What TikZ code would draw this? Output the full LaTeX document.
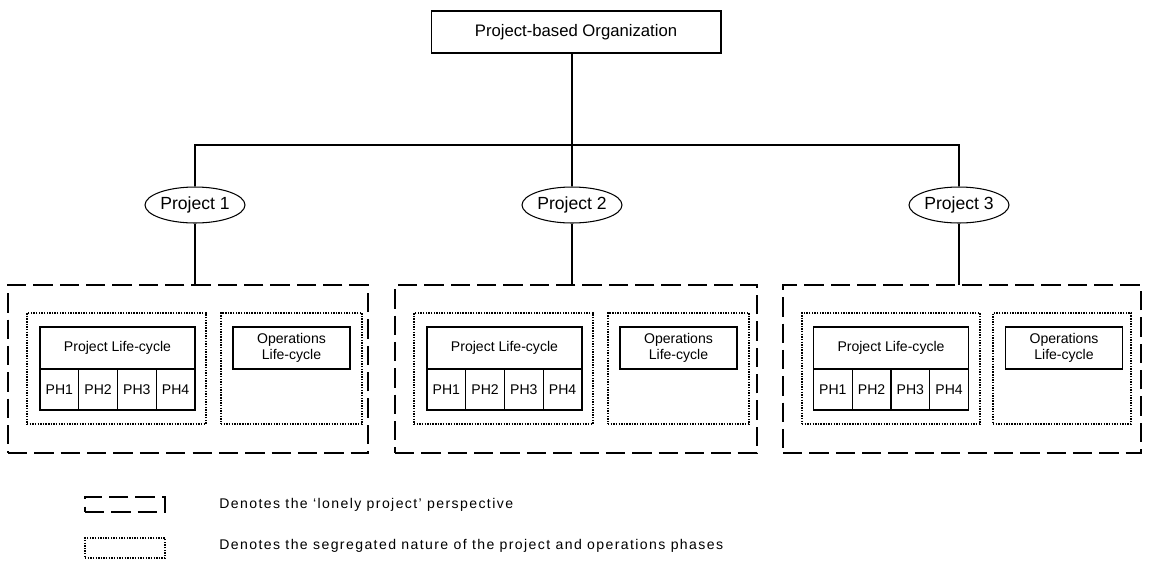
\documentclass[tikz,border=0pt]{standalone}
\usepackage{fontspec}
\setmainfont{Liberation Sans}
\newfontfamily\legfont[LetterSpace=10]{Liberation Sans}
\usetikzlibrary{positioning,shapes.geometric}
\tikzset{
  plainbox/.style={draw, line width=0.6pt, inner sep=0pt, outer sep=0pt},
  lonebox/.style={draw, line width=1.5pt, dash pattern=on 11pt off 4pt, inner sep=0pt, outer sep=0pt},
  segbox/.style={draw, line width=1.1pt, dash pattern=on 0.8pt off 0.7pt, inner sep=0pt, outer sep=0pt},
  projnode/.style={draw, ellipse, line width=0.6pt, minimum width=2cm, minimum height=0.72cm, inner sep=0pt, font=\fontsize{10}{12}\selectfont},
  lcbox/.style={plainbox, minimum width=3.1cm, minimum height=0.84cm, font=\fontsize{8}{10}\selectfont},
  phbox/.style={plainbox, minimum width=0.775cm, minimum height=0.82cm, font=\fontsize{8}{10}\selectfont},
  opsbox/.style={plainbox, minimum width=2.34cm, minimum height=0.84cm, align=center, font=\fontsize{8}{9.5}\selectfont},
  legtext/.style={anchor=west, font=\legfont\fontsize{8}{10}\selectfont}
}
\begin{document}
\begin{tikzpicture}[x=0.02cm, y=-0.02cm, line width=0.6pt]
  \useasboundingbox[fill=white] (0,0) rectangle (1150,562);
  % Top of the tree
  \node[plainbox, minimum width=5.8cm, minimum height=0.84cm, font=\fontsize{9.5}{11}\selectfont] (org) at (576,32) {Project-based Organization};
  \coordinate (bus) at (572,145);
  % Projects
  \node[projnode] (proj1) at (195,205) {Project 1};
  \node[projnode] (proj2) at (572,205) {Project 2};
  \node[projnode] (proj3) at (959,205) {Project 3};
  % Lonely project boxes
  \node[lonebox, minimum width=7.2cm, minimum height=3.36cm] (lone1) at (188,369) {};
  \node[lonebox, minimum width=7.24cm, minimum height=3.36cm] (lone2) at (576,369) {};
  \node[lonebox, minimum width=7.16cm, minimum height=3.36cm] (lone3) at (962,369) {};
  % Connectors
  \draw (bus |- org.south) -- (bus);
  \draw (proj1.north) -- (proj1.north |- bus) -- (proj3.north |- bus) -- (proj3.north);
  \draw (bus) -- (proj2.north);
  \draw (proj1.south) -- (proj1.south |- lone1.north);
  \draw (proj2.south) -- (proj2.south |- lone2.north);
  \draw (proj3.south) -- (proj3.south |- lone3.north);
  % Project 1 life-cycles
  \node[segbox, minimum width=3.58cm, minimum height=2.22cm] (seg11) at (116.5,368.5) {};
  \node[lcbox] (plc1) at (117.5,348) {Project Life-cycle};
  \node[phbox, anchor=north west] (ph11) at (plc1.south west) {PH1};
  \node[phbox, right=0pt of ph11] (ph12) {PH2};
  \node[phbox, right=0pt of ph12] (ph13) {PH3};
  \node[phbox, right=0pt of ph13] (ph14) {PH4};
  \node[segbox, minimum width=2.82cm, minimum height=2.22cm] (seg12) at (291.5,368.5) {};
  \node[opsbox] (ops1) at (291.5,348) {Operations\\Life-cycle};
  % Project 2 life-cycles
  \node[segbox, minimum width=3.58cm, minimum height=2.22cm] (seg21) at (503.5,368.5) {};
  \node[lcbox] (plc2) at (504.5,348) {Project Life-cycle};
  \node[phbox, anchor=north west] (ph21) at (plc2.south west) {PH1};
  \node[phbox, right=0pt of ph21] (ph22) {PH2};
  \node[phbox, right=0pt of ph22] (ph23) {PH3};
  \node[phbox, right=0pt of ph23] (ph24) {PH4};
  \node[segbox, minimum width=2.82cm, minimum height=2.22cm] (seg22) at (678.5,368.5) {};
  \node[opsbox] (ops2) at (678.5,348) {Operations\\Life-cycle};
  % Project 3 life-cycles
  \node[segbox, minimum width=3.56cm, minimum height=2.22cm] (seg31) at (891,368.5) {};
  \node[lcbox] (plc3) at (891,348) {Project Life-cycle};
  \node[phbox, anchor=north west] (ph31) at (plc3.south west) {PH1};
  \node[phbox, right=0pt of ph31] (ph32) {PH2};
  \node[phbox, right=0pt of ph32] (ph33) {PH3};
  \node[phbox, right=0pt of ph33] (ph34) {PH4};
  \node[segbox, minimum width=2.76cm, minimum height=2.22cm] (seg32) at (1062,368.5) {};
  \node[opsbox] (ops3) at (1064,348) {Operations\\Life-cycle};
  % Legend
  \node[lonebox, minimum width=1.6cm, minimum height=0.3cm] (leglone) at (125,504.5) {};
  \node[legtext] (leglonetext) at (213,504.5) {Denotes the ‘lonely project’ perspective};
  \node[segbox, minimum width=1.6cm, minimum height=0.4cm] (legseg) at (125,548) {};
  \node[legtext] (legsegtext) at (213,546) {Denotes the segregated nature of the project and operations phases};
\end{tikzpicture}
\end{document}
